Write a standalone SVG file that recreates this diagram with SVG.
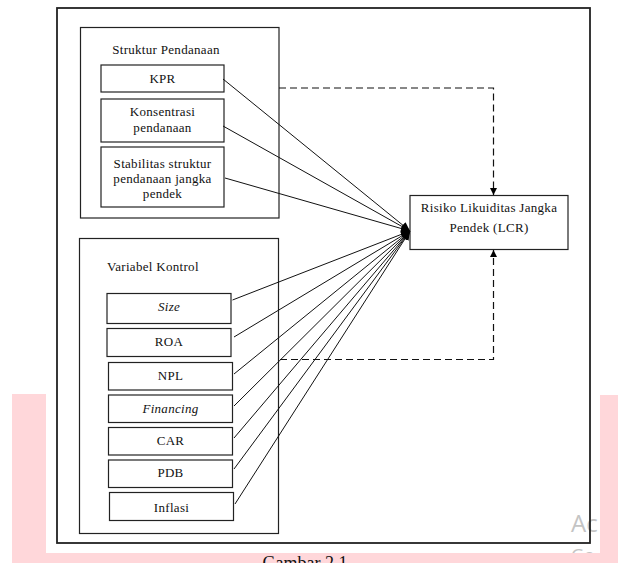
<svg xmlns="http://www.w3.org/2000/svg" width="618" height="563" viewBox="0 0 618 563">
<style>
.box{fill:#fff;stroke:#222;stroke-width:1.2}
.grp{fill:none;stroke:#222;stroke-width:1.2}
.t{font-family:"Liberation Serif",serif;font-size:13px;letter-spacing:0.3px;fill:#111;text-anchor:middle}
.tl{font-family:"Liberation Serif",serif;font-size:13px;letter-spacing:0.3px;fill:#111}
.i{font-style:italic}
.ln{stroke:#111;stroke-width:1;fill:none}
.dash{stroke:#111;stroke-width:1.2;fill:none;stroke-dasharray:7 4}
.wm{font-family:"Open Sans","Liberation Sans",sans-serif;fill:#c4c4c4}
.pk{fill:#ffd7da}
</style>
<defs>
<marker id="ah" markerWidth="9" markerHeight="8" refX="9" refY="4" orient="auto" markerUnits="userSpaceOnUse">
<path d="M0,0 L9,4 L0,8 Z" fill="#000"/>
</marker>
<marker id="ad" markerWidth="7" markerHeight="8" refX="7" refY="3.5" orient="auto" markerUnits="userSpaceOnUse">
<path d="M0,0 L7,3.5 L0,7 Z" fill="#000"/>
</marker>
</defs>
<rect width="618" height="563" fill="#fff"/>
<text class="wm" x="571" y="532" font-size="24">Ac</text>
<text class="wm" x="571" y="562" font-size="18">Go</text>
<rect class="pk" x="12" y="394" width="34" height="169"/>
<rect class="pk" x="600" y="395" width="18" height="168"/>
<rect class="pk" x="12" y="553" width="606" height="10"/>
<text x="305" y="569" font-family="Liberation Serif,serif" font-size="18" text-anchor="middle" fill="#111">Gambar 2.1</text>
<rect x="57" y="8" width="533" height="535" fill="none" stroke="#222" stroke-width="1.8"/>

<g id="struktur-pendanaan">
<rect class="grp" x="80.5" y="27.5" width="198.5" height="190.5"/>
<text class="t" x="166" y="54">Struktur Pendanaan</text>
</g>
<g id="kpr">
<rect class="box" x="101" y="65" width="123" height="27"/>
<text class="t" x="162.5" y="83">KPR</text>
</g>
<g id="konsentrasi">
<rect class="box" x="101" y="99" width="123" height="43"/>
<text class="t" x="162.5" y="116">Konsentrasi</text>
<text class="t" x="162.5" y="132">pendanaan</text>
</g>
<g id="stabilitas">
<rect class="box" x="101" y="147" width="123" height="60"/>
<text class="t" x="162.5" y="168">Stabilitas struktur</text>
<text class="t" x="162.5" y="183">pendanaan jangka</text>
<text class="t" x="162.5" y="198">pendek</text>
</g>

<g id="variabel-kontrol">
<rect class="grp" x="79.5" y="238.5" width="199" height="295"/>
<text class="tl" x="107" y="271">Variabel Kontrol</text>
</g>
<g id="size">
<rect class="box" x="107" y="293.5" width="124" height="30"/>
<text class="t i" x="169" y="311">Size</text>
</g>
<g id="roa">
<rect class="box" x="107" y="328.5" width="124" height="28"/>
<text class="t" x="169" y="346">ROA</text>
</g>
<g id="npl">
<rect class="box" x="108.5" y="362.5" width="124" height="27.5"/>
<text class="t" x="170.5" y="379.5">NPL</text>
</g>
<g id="financing">
<rect class="box" x="108.5" y="395" width="124" height="27.5"/>
<text class="t i" x="170.5" y="413">Financing</text>
</g>
<g id="car">
<rect class="box" x="108.5" y="427.5" width="124" height="27.5"/>
<text class="t" x="170.5" y="445">CAR</text>
</g>
<g id="pdb">
<rect class="box" x="108.5" y="460" width="124" height="27.5"/>
<text class="t" x="170.5" y="477">PDB</text>
</g>
<g id="inflasi">
<rect class="box" x="109.5" y="492.5" width="124" height="28"/>
<text class="t" x="171.5" y="512">Inflasi</text>
</g>

<g id="lcr">
<rect class="box" x="410" y="195.5" width="158" height="54"/>
<text class="t" x="489" y="212">Risiko Likuiditas Jangka</text>
<text class="t" x="489" y="232">Pendek (LCR)</text>
</g>

<g id="connectors">
<line class="ln" x1="223" y1="79" x2="410" y2="231" marker-end="url(#ah)"/>
<line class="ln" x1="223" y1="126" x2="410" y2="231" marker-end="url(#ah)"/>
<line class="ln" x1="225" y1="178" x2="410" y2="231" marker-end="url(#ah)"/>
<line class="ln" x1="232.5" y1="300" x2="410" y2="231" marker-end="url(#ah)"/>
<line class="ln" x1="234" y1="337" x2="410" y2="231" marker-end="url(#ah)"/>
<line class="ln" x1="234" y1="374" x2="410" y2="231" marker-end="url(#ah)"/>
<line class="ln" x1="234" y1="406" x2="410" y2="231" marker-end="url(#ah)"/>
<line class="ln" x1="234" y1="438" x2="410" y2="231" marker-end="url(#ah)"/>
<line class="ln" x1="234" y1="469" x2="410" y2="231" marker-end="url(#ah)"/>
<line class="ln" x1="235" y1="504" x2="410" y2="231" marker-end="url(#ah)"/>
<path class="dash" d="M279,88 H493.5 V195" marker-end="url(#ad)"/>
<path class="dash" d="M280,359.5 H493.5 V250" marker-end="url(#ad)"/>
</g>
</svg>
